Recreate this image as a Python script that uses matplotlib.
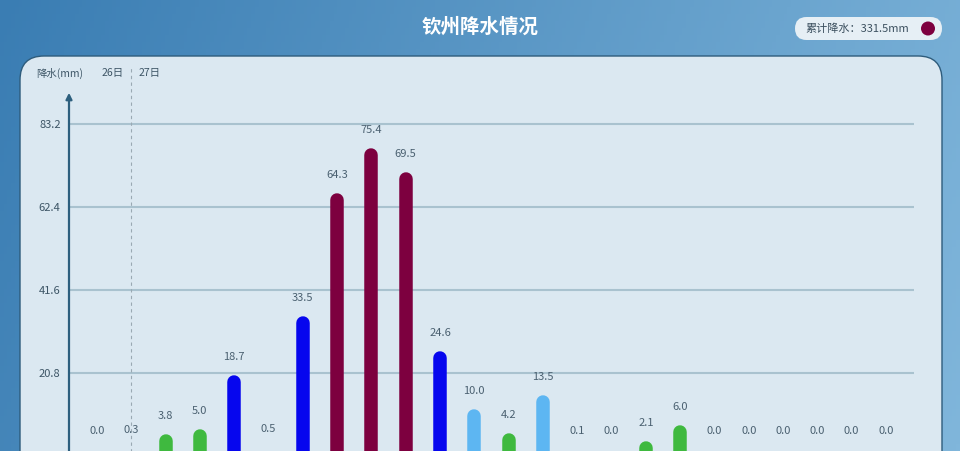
import matplotlib
matplotlib.use("Agg")
import matplotlib.pyplot as plt
import numpy as np
from matplotlib.patches import FancyBboxPatch, Circle

plt.rcParams['font.family'] = ['Noto Sans CJK SC', 'DejaVu Sans']

# ---- data ----
rain = [0.0, 0.3, 3.8, 5.0, 18.7, 0.5, 33.5, 64.3, 75.4, 69.5, 24.6, 10.0,
        4.2, 13.5, 0.1, 0.0, 2.1, 6.0, 0.0, 0.0, 0.0, 0.0, 0.0, 0.0]
yticks = [20.8, 41.6, 62.4, 83.2]
day_labels = ["26日", "27日"]
day_break_index = 1
title = "钦州降水情况"
total_label = "累计降水：331.5mm"
ylabel = "降水(mm)"

def level_color(v):
    if v < 2.0:
        return "#86ec52"
    if v < 10.0:
        return "#3fb93f"
    if v < 16.0:
        return "#5db6f2"
    if v < 50.0:
        return "#0606ee"
    return "#7d003f"

W, H = 960, 451
fig = plt.figure(figsize=(W / 100, H / 100), dpi=100)

# background (pixel coordinates)
bg = fig.add_axes([0, 0, 1, 1])
bg.set_xlim(0, W)
bg.set_ylim(H, 0)
bg.axis('off')
gx = np.linspace(0, 1, 256)
gy = np.linspace(0, 1, 64)
GX, GY = np.meshgrid(gx, gy)
c0 = np.array([0x3a, 0x7d, 0xb3]) / 255
c1 = np.array([0x80, 0xb6, 0xdb]) / 255
t = np.clip(GX * 0.85 + GY * 0.15, 0, 1)[..., None]
img = c0 * (1 - t) + c1 * t
bg.imshow(img, extent=[0, W, H, 0], aspect='auto', zorder=0)

panel = FancyBboxPatch((20, 56), 922, 460,
                       boxstyle="round,pad=0,rounding_size=24",
                       facecolor="#dbe8f1", edgecolor="#2e5c7c", lw=1.0, zorder=1)
bg.add_patch(panel)

# title
bg.text(480, 27, title, color="white", fontsize=14, ha='center', va='center',
        fontweight='bold', zorder=3)

# total pill
pill = FancyBboxPatch((795, 17), 147, 23, boxstyle="round,pad=0,rounding_size=11.5",
                      facecolor="#e6eff5", edgecolor="none", zorder=2)
bg.add_patch(pill)
bg.text(805, 28.5, total_label, color="#3b4f5e", fontsize=8, ha='left', va='center', zorder=3)
bg.add_patch(Circle((928, 28.5), 7, facecolor="#7d003f", edgecolor="none", zorder=3))

# axis labels in header
bg.text(60, 73, ylabel, color="#3d5566", fontsize=7.5, ha='center', va='center', zorder=3)

# ---- chart axes ----
x0_px, x1_px = 69, 914
ybot_px, ytop_px = 456.3, 90
px_per_unit = 3.99
spacing = 34.3
first_px = 97
ax = fig.add_axes([x0_px / W, (H - ybot_px) / H, (x1_px - x0_px) / W, (ybot_px - ytop_px) / H])
ax.patch.set_alpha(0)
xa = -(first_px - x0_px) / spacing
xb = xa + (x1_px - x0_px) / spacing
ax.set_xlim(xa, xb)
ax.set_ylim(0, (ybot_px - ytop_px) / px_per_unit)
for s in ax.spines.values():
    s.set_visible(False)
ax.set_xticks([])
ax.set_yticks(yticks)
ax.set_yticklabels([f"{v:.1f}" for v in yticks], color="#3d5566", fontsize=8)
ax.tick_params(axis='y', length=0, pad=6)
ax.yaxis.grid(True, color="#a9c2cf", lw=1.5)
ax.set_axisbelow(True)

# y axis with arrow
ax.annotate('', xy=(xa, ax.get_ylim()[1]), xytext=(xa, -2),
            arrowprops=dict(arrowstyle='-|>', color="#2d5f7e", lw=1.6, mutation_scale=9),
            annotation_clip=False, zorder=4)

# day break dashed line
ax.plot([day_break_index, day_break_index], [0, ax.get_ylim()[1] + 6], ls=(0, (3, 3)),
        color="#9aa9b3", lw=0.8, clip_on=False, zorder=1)
trans = ax.get_xaxis_transform()
ax.text(day_break_index - 0.55, 1.0 + 17 / (ybot_px - ytop_px), day_labels[0], transform=trans,
        ha='center', va='center', fontsize=7.5, color="#3d5566")
ax.text(day_break_index + 0.52, 1.0 + 17 / (ybot_px - ytop_px), day_labels[1], transform=trans,
        ha='center', va='center', fontsize=7.5, color="#3d5566")

# bars (rounded tops)
bar_w_pt = 13.5 * 72 / 100
for i, v in enumerate(rain):
    if v > 0:
        ax.plot([i, i], [-3, v], color=level_color(v), lw=bar_w_pt,
                solid_capstyle='round', clip_on=False, zorder=3)
    ax.annotate(f"{v:.1f}", xy=(i, v), xytext=(0, 18), textcoords='offset points',
                ha='center', va='center', fontsize=8, color="#4a6070", zorder=4)

fig.savefig("out.png", dpi=100)
